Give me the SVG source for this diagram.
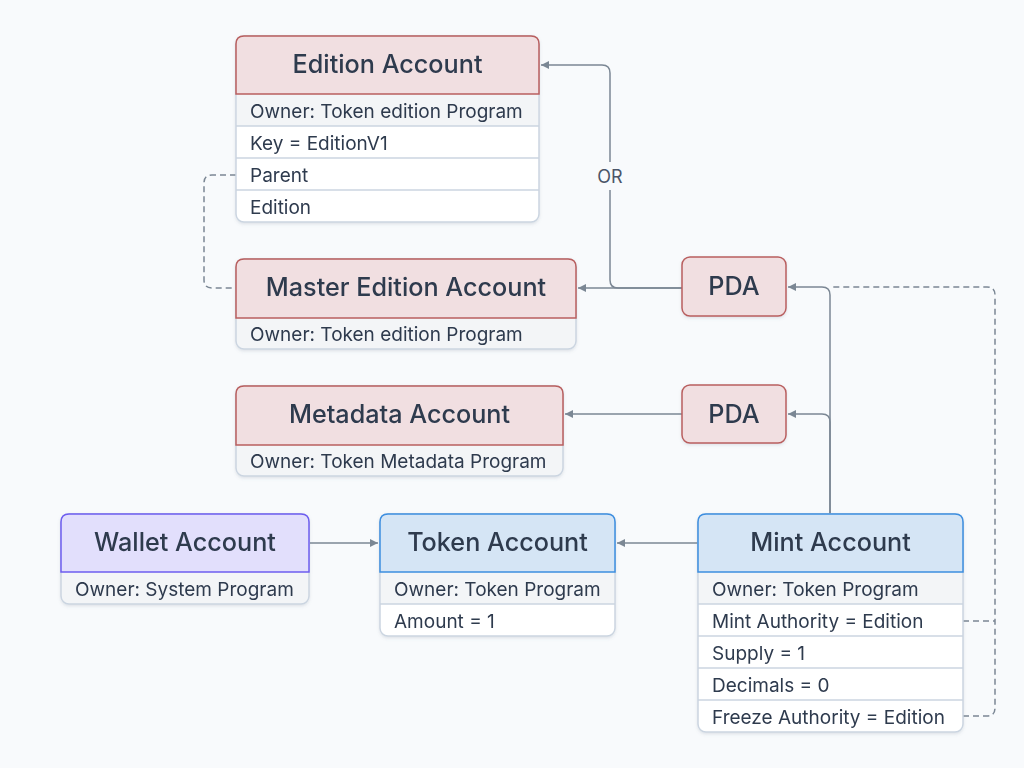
<svg xmlns="http://www.w3.org/2000/svg" width="1024" height="768" viewBox="0 0 1024 768">
<defs>
<marker id="arr" markerUnits="userSpaceOnUse" markerWidth="10" markerHeight="10" viewBox="0 0 10 10" refX="9" refY="5" orient="auto">
<path d="M1,1 L9,5 L1,9 Z" fill="#7b8794"/>
</marker>
<filter id="sh" x="-5%" y="-5%" width="110%" height="120%">
<feDropShadow dx="0" dy="1.5" stdDeviation="1.5" flood-color="#64748b" flood-opacity="0.18"/>
</filter>
<style>
.body{stroke:#cbd5e1;stroke-width:1.5}
.white{fill:#ffffff}
.grey{fill:#f3f5f7}
.sep{stroke:#cbd5e1;stroke-width:1.5}
.red{fill:#f1dfe1;stroke:#b95f5f;stroke-width:1.5}
.blue{fill:#d5e5f5;stroke:#3d8ee0;stroke-width:1.5}
.purple{fill:#e2dffc;stroke:#6d5df0;stroke-width:1.5}
.title{font-family:Inter,"Liberation Sans",sans-serif;font-size:25.2px;font-weight:500;fill:#2e3a4e;text-anchor:middle}
.row{font-family:Inter,"Liberation Sans",sans-serif;font-size:19px;fill:#2e3a4e}
.lbl{font-family:Inter,"Liberation Sans",sans-serif;font-size:18px;fill:#4a5568;text-anchor:middle}
.conn{fill:none;stroke:#7b8794;stroke-width:1.5}
.dash{fill:none;stroke:#7b8794;stroke-width:1.5;stroke-dasharray:6 4}
</style>
</defs>
<rect width="1024" height="768" fill="#f8fafc"/>

<g id="connectors">
<path class="conn" d="M830,514 V295 Q830,287 822,287 H788" marker-end="url(#arr)"/>
<path class="conn" d="M830,514 V422 Q830,414 822,414 H788" marker-end="url(#arr)"/>
<path class="conn" d="M682,288 H578" marker-end="url(#arr)"/>
<path class="conn" d="M682,288 H618 Q610,288 610,280 V73 Q610,65 602,65 H541" marker-end="url(#arr)"/>
<path class="conn" d="M682,414 H565" marker-end="url(#arr)"/>
<path class="conn" d="M698,543 H617" marker-end="url(#arr)"/>
<path class="conn" d="M310,543 H378" marker-end="url(#arr)"/>
<path class="dash" d="M236,175 H212 Q204,175 204,183 V280 Q204,288 212,288 H236"/>
<path class="dash" d="M963,621 H995"/>
<path class="dash" d="M963,716 H987 Q995,716 995,708 V295 Q995,287 987,287 H830"/>
<rect x="592" y="162" width="36" height="28" fill="#f8fafc"/>
<text class="lbl" x="610" y="182.5">OR</text>
</g>

<g id="edition-account" filter="url(#sh)">
<rect class="body white" x="236" y="36" width="303" height="186" rx="8"/>
<rect class="grey" x="237" y="94" width="301" height="32"/>
<line class="sep" x1="236" y1="126" x2="539" y2="126"/>
<line class="sep" x1="236" y1="158" x2="539" y2="158"/>
<line class="sep" x1="236" y1="190" x2="539" y2="190"/>
<path class="red" d="M236,94 V44 Q236,36 244,36 H531 Q539,36 539,44 V94 Z"/>
<text class="title" x="387.5" y="72.5">Edition Account</text>
<text class="row" x="250" y="117.5">Owner: Token edition Program</text>
<text class="row" x="250" y="149.5">Key = EditionV1</text>
<text class="row" x="250" y="181.5">Parent</text>
<text class="row" x="250" y="213.5">Edition</text>
</g>

<g id="master-edition-account" filter="url(#sh)">
<rect class="body grey" x="236" y="259" width="340" height="90" rx="8"/>
<path class="red" d="M236,318 V267 Q236,259 244,259 H568 Q576,259 576,267 V318 Z"/>
<text class="title" x="406" y="296">Master Edition Account</text>
<text class="row" x="250" y="341">Owner: Token edition Program</text>
</g>

<g id="metadata-account" filter="url(#sh)">
<rect class="body grey" x="236" y="386" width="327" height="90" rx="8"/>
<path class="red" d="M236,445 V394 Q236,386 244,386 H555 Q563,386 563,394 V445 Z"/>
<text class="title" x="399.5" y="423">Metadata Account</text>
<text class="row" x="250" y="468">Owner: Token Metadata Program</text>
</g>

<g id="pda-1" filter="url(#sh)">
<rect class="red" x="682" y="257" width="104" height="59" rx="8"/>
<text class="title" x="734" y="295">PDA</text>
</g>

<g id="pda-2" filter="url(#sh)">
<rect class="red" x="682" y="385" width="104" height="58" rx="8"/>
<text class="title" x="734" y="422.5">PDA</text>
</g>

<g id="wallet-account" filter="url(#sh)">
<rect class="body grey" x="61" y="514" width="248" height="90" rx="8"/>
<path class="purple" d="M61,572 V522 Q61,514 69,514 H301 Q309,514 309,522 V572 Z"/>
<text class="title" x="185" y="551">Wallet Account</text>
<text class="row" x="75" y="596">Owner: System Program</text>
</g>

<g id="token-account" filter="url(#sh)">
<rect class="body white" x="380" y="514" width="235" height="122" rx="8"/>
<rect class="grey" x="381" y="572" width="233" height="32"/>
<line class="sep" x1="380" y1="604" x2="615" y2="604"/>
<path class="blue" d="M380,572 V522 Q380,514 388,514 H607 Q615,514 615,522 V572 Z"/>
<text class="title" x="497.5" y="551">Token Account</text>
<text class="row" x="394" y="596">Owner: Token Program</text>
<text class="row" x="394" y="628">Amount = 1</text>
</g>

<g id="mint-account" filter="url(#sh)">
<rect class="body white" x="698" y="514" width="265" height="218" rx="8"/>
<rect class="grey" x="699" y="572" width="263" height="32"/>
<line class="sep" x1="698" y1="604" x2="963" y2="604"/>
<line class="sep" x1="698" y1="636" x2="963" y2="636"/>
<line class="sep" x1="698" y1="668" x2="963" y2="668"/>
<line class="sep" x1="698" y1="700" x2="963" y2="700"/>
<path class="blue" d="M698,572 V522 Q698,514 706,514 H955 Q963,514 963,522 V572 Z"/>
<text class="title" x="830.5" y="551">Mint Account</text>
<text class="row" x="712" y="596">Owner: Token Program</text>
<text class="row" x="712" y="628">Mint Authority = Edition</text>
<text class="row" x="712" y="660">Supply = 1</text>
<text class="row" x="712" y="692">Decimals = 0</text>
<text class="row" x="712" y="724">Freeze Authority = Edition</text>
</g>
</svg>
